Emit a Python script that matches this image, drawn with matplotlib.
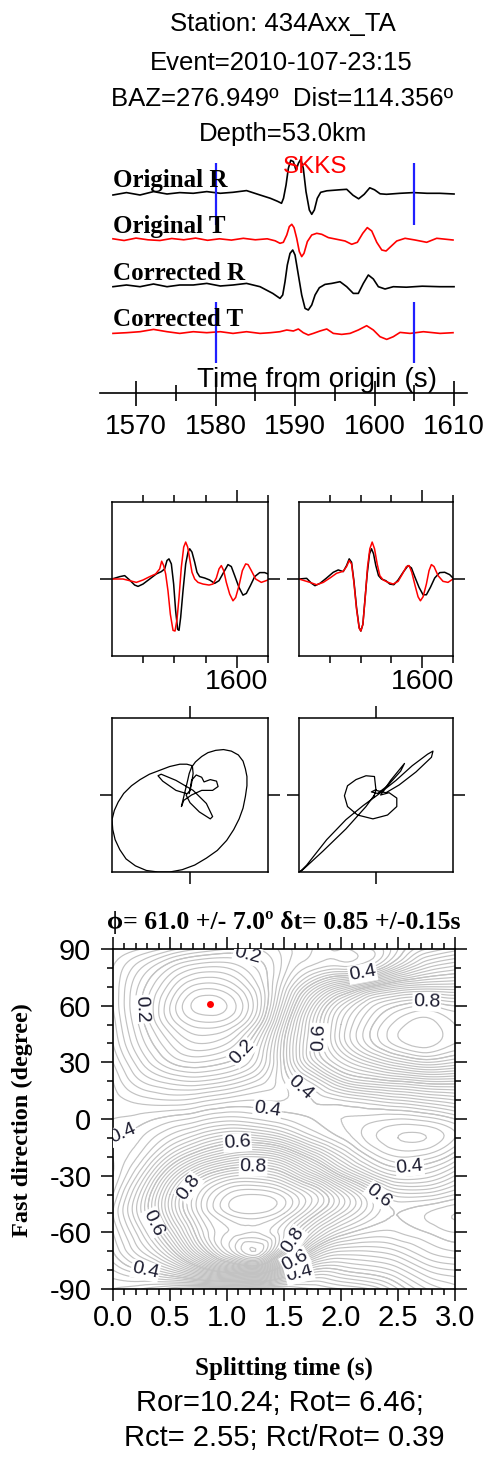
"""Shear-wave splitting summary: traces, windowed waveforms, particle motion, misfit grid."""
import numpy as np
import matplotlib
matplotlib.use("Agg")
import matplotlib.pyplot as plt
import matplotlib.tri as mtri
from matplotlib.ticker import FixedLocator, MultipleLocator, FormatStrFormatter

W, H, DPI = 491, 1458, 100
SANS = ['Liberation Sans', 'DejaVu Sans']
SERIF = ['Liberation Serif', 'DejaVu Serif']
plt.rcParams['font.family'] = SANS
plt.rcParams['axes.unicode_minus'] = False

# ---- event / result info
station = "434Axx_TA"
event = "2010-107-23:15"
baz, dist, depth = 276.949, 114.356, 53.0
phase = "SKKS"
win = [1580, 1605]
phi_best, phi_err = 61.0, 7.0
dt_best, dt_err = 0.85, 0.15
ror, rot, rct = 10.24, 6.46, 2.55

time_ticks = [1570, 1580, 1590, 1600, 1610]
time_minor = [1575, 1585, 1595, 1605]

# ---- full traces: time (s) and amplitude (screen units)
or_t = [1567.1, 1568.8, 1570.5, 1572.2, 1573.9, 1575.5, 1577.2, 1578.9, 1580.6, 1582.2,
        1583.9, 1585.6, 1586.9, 1587.8, 1588.3, 1588.55, 1588.87, 1589.16, 1589.46, 1589.79,
        1590.13, 1590.42, 1590.72, 1591.04, 1591.38, 1591.8, 1592.1, 1592.43, 1592.8, 1593.23,
        1594.0, 1594.8, 1595.6, 1596.5, 1597.3, 1598.0, 1598.7, 1599.4, 1600.0, 1600.7,
        1601.5, 1603.2, 1604.9, 1606.6, 1608.2, 1610.0]
or_a = [-1.7, 0.7, -1.7, 1.7, -0.7, 0.7, 0.0, 1.7, 0.0, 1.0,
        2.7, -1.7, -5.0, -8.0, -10.0, -5.0, 8.3, 25.0, 33.0, 31.7,
        23.0, 30.0, 34.0, 25.0, 1.7, -16.7, -21.0, -16.7, -5.0, 1.0,
        2.5, 3.0, 3.5, 4.0, -2.0, -5.5, -1.0, 5.5, 3.5, -0.5,
        -1.0, 0.0, 0.7, 0.0, 0.0, -0.7]

ot_t = [1567.1, 1568.5, 1570.0, 1571.5, 1573.0, 1574.5, 1576.0, 1577.5, 1579.0, 1580.5,
        1582.0, 1583.5, 1585.0, 1586.5, 1587.5, 1588.11, 1588.53, 1588.96, 1589.28, 1589.59,
        1589.87, 1590.21, 1590.54, 1590.84, 1591.13, 1591.55, 1592.1, 1592.73, 1593.36, 1594.19,
        1595.25, 1596.29, 1597.13, 1597.84, 1598.52, 1599.09, 1599.65, 1600.28, 1600.91, 1601.45,
        1602.04, 1602.79, 1603.84, 1605.09, 1606.56, 1607.82, 1609.87]
ot_a = [0.5, -1.2, 1.2, -0.5, -1.2, 0.8, -0.5, 1.2, -1.0, 0.5,
        -0.8, 1.0, -0.5, 0.5, -1.5, -4.0, -3.0, 4.3, 12.7, 15.0,
        11.7, 1.0, -12.3, -17.3, -14.0, -2.3, 4.3, 6.0, 5.0, 1.7,
        0.0, -1.7, -5.0, -3.0, 6.0, 11.7, 8.3, -3.0, -10.7, -11.7,
        -7.3, -1.7, 1.0, -0.7, -3.0, 1.0, -0.7]

cr_t = [1567.1, 1568.8, 1570.5, 1572.2, 1573.9, 1575.5, 1577.2, 1578.9, 1580.6, 1582.2,
        1583.9, 1585.6, 1587.2, 1588.11, 1588.45, 1588.74, 1589.03, 1589.37, 1589.71, 1590.0,
        1590.42, 1590.84, 1591.26, 1591.67, 1592.1, 1592.52, 1593.06, 1593.77, 1594.62, 1595.66,
        1596.5, 1597.33, 1597.96, 1598.59, 1599.22, 1599.85, 1600.48, 1601.32, 1602.36, 1604.0,
        1606.0, 1608.2, 1610.0]
cr_a = [0.0, 1.7, 0.0, 2.7, 0.0, 1.7, 1.7, 3.3, 0.7, 1.7,
        3.3, 0.0, -6.7, -11.7, -8.3, 5.0, 21.7, 33.3, 36.7, 31.7,
        11.7, -8.3, -21.7, -23.3, -18.3, -8.3, -1.0, 2.3, 3.3, 5.0,
        0.0, -6.7, -6.7, 3.3, 11.7, 7.7, 0.0, -2.3, 0.0, -0.5,
        0.5, 0.0, 0.0]

ct_t = [1567.1, 1568.8, 1570.5, 1572.2, 1573.9, 1575.5, 1577.2, 1578.9, 1580.6, 1582.2,
        1583.9, 1585.6, 1586.9, 1588.11, 1588.96, 1589.79, 1590.42, 1591.04, 1591.67, 1592.3,
        1593.14, 1593.99, 1594.82, 1595.87, 1596.92, 1597.96, 1599.01, 1599.85, 1600.69, 1601.53,
        1602.36, 1603.21, 1604.47, 1606.14, 1608.24, 1609.87]
ct_a = [-0.7, 0.0, 1.0, 3.3, 1.0, -0.7, 1.0, 0.0, 1.0, -0.7,
        1.0, -0.7, 0.0, 1.0, 2.7, 1.7, 3.7, 0.0, -2.3, -0.7,
        1.7, 3.7, -0.7, -1.7, -0.7, 2.7, 7.0, 2.7, -4.0, -6.7,
        -4.0, 0.3, -0.7, 1.0, -0.7, 0.0]

trace_names = ["Original R", "Original T", "Corrected R", "Corrected T"]

# ---- windowed waveforms (normalised), before (1) and after (2) correction
w1_t = [1580.0, 1581.23, 1582.03, 1582.83, 1583.63, 1584.17, 1584.97, 1586.04, 1587.1, 1587.9,
        1588.44, 1588.81, 1589.13, 1589.51, 1589.88, 1590.2, 1590.52, 1590.74, 1591.0, 1591.38,
        1591.81, 1592.18, 1592.45, 1592.82, 1593.25, 1593.62, 1594.05, 1594.85, 1595.65, 1596.45,
        1597.15, 1597.9, 1598.59, 1599.12, 1599.66, 1600.35, 1600.99, 1601.53, 1602.17, 1602.86,
        1603.67, 1604.47, 1605.0]
w1_a = [0.0, 0.045, 0.065, -0.02, -0.116, -0.142, -0.097, 0.0, 0.097, 0.142,
        0.194, 0.355, 0.387, 0.29, -0.097, -0.613, -0.968, -0.987, -0.742, -0.226,
        0.29, 0.516, 0.581, 0.516, 0.323, 0.129, 0.045, 0.019, -0.019, -0.084,
        -0.032, 0.129, 0.277, 0.239, 0.065, -0.161, -0.31, -0.277, -0.129, 0.045,
        0.123, 0.123, 0.097]
r1_t = [1580.0, 1581.76, 1582.83, 1583.9, 1584.97, 1586.04, 1587.0, 1587.64, 1587.96, 1588.28,
        1588.6, 1588.97, 1589.35, 1589.78, 1590.1, 1590.42, 1590.74, 1591.11, 1591.49, 1591.81,
        1592.13, 1592.45, 1592.82, 1593.25, 1593.78, 1594.58, 1595.55, 1596.19, 1596.72, 1597.15,
        1597.52, 1597.9, 1598.32, 1598.86, 1599.39, 1599.82, 1600.35, 1600.89, 1601.42, 1601.8,
        1602.33, 1603.02, 1603.93, 1605.0]
r1_a = [0.0, 0.0, -0.032, -0.065, -0.019, 0.045, 0.097, 0.194, 0.342, 0.258,
        0.097, -0.226, -0.677, -0.987, -1.0, -0.774, -0.355, 0.226, 0.613, 0.71,
        0.613, 0.387, 0.129, 0.0, -0.065, -0.097, -0.116, -0.097, 0.019, 0.194,
        0.258, 0.161, -0.065, -0.29, -0.419, -0.355, -0.129, 0.161, 0.29, 0.277,
        0.161, 0.0, -0.065, -0.019]
w2_t = [1580.0, 1581.24, 1582.05, 1582.59, 1583.4, 1584.48, 1585.56, 1586.37, 1587.18, 1587.72,
        1588.15, 1588.53, 1588.91, 1589.34, 1589.77, 1590.04, 1590.37, 1590.69, 1591.07, 1591.45,
        1591.77, 1592.1, 1592.47, 1592.91, 1593.39, 1594.09, 1594.74, 1595.39, 1596.09, 1596.9,
        1597.71, 1598.25, 1598.79, 1599.49, 1600.14, 1600.68, 1601.33, 1602.03, 1602.84, 1603.65,
        1604.46, 1605.0]
w2_a = [0.0, 0.013, -0.084, -0.129, -0.084, 0.019, 0.129, 0.174, 0.142, 0.258,
        0.387, 0.323, -0.032, -0.548, -0.935, -1.0, -0.871, -0.419, 0.097, 0.484,
        0.581, 0.484, 0.258, 0.065, 0.0, -0.032, -0.097, -0.11, -0.019, 0.129,
        0.258, 0.213, 0.045, -0.161, -0.303, -0.303, -0.161, 0.019, 0.123, 0.129,
        0.084, 0.019]
r2_t = [1580.0, 1581.78, 1582.86, 1583.94, 1585.02, 1586.1, 1587.18, 1587.72, 1588.15, 1588.53,
        1588.91, 1589.34, 1589.77, 1590.04, 1590.37, 1590.75, 1591.12, 1591.5, 1591.88, 1592.26,
        1592.69, 1593.12, 1593.66, 1594.47, 1595.28, 1596.09, 1596.79, 1597.44, 1597.87, 1598.31,
        1598.85, 1599.33, 1599.71, 1600.14, 1600.68, 1601.11, 1601.49, 1601.92, 1602.57, 1603.38,
        1604.19, 1605.0]
r2_a = [0.0, -0.065, -0.11, -0.065, 0.019, 0.11, 0.148, 0.239, 0.355, 0.29,
        -0.065, -0.581, -0.948, -1.0, -0.871, -0.355, 0.226, 0.581, 0.71, 0.581,
        0.29, 0.065, -0.019, -0.065, -0.097, -0.045, 0.097, 0.239, 0.258, 0.129,
        -0.129, -0.342, -0.419, -0.342, -0.097, 0.161, 0.277, 0.239, 0.065, -0.045,
        -0.065, 0.0]

# ---- particle motion (normalised), before and after correction
pm1_x = [-0.05, -0.18, -0.35, -0.41, -0.37, -0.18, 0.04, 0.21, 0.29, 0.26,
         0.12, 0.0, -0.05, 0.0, 0.02, 0.08, 0.15, 0.18, 0.26, 0.34,
         0.36, 0.29, 0.15, 0.02, -0.08, -0.11,
         -0.03, -0.01, 0.02, 0.07, 0.15, 0.23, 0.33, 0.43, 0.53, 0.62,
         0.68, 0.71, 0.73, 0.73, 0.71, 0.68, 0.63, 0.56, 0.47, 0.35,
         0.21, 0.06, -0.1, -0.26, -0.41, -0.56, -0.7, -0.82, -0.9, -0.96,
         -0.99, -1.0, -0.97, -0.92, -0.85, -0.75, -0.64, -0.52, -0.39, -0.26,
         -0.13, -0.04, 0.03, 0.04, 0.02, -0.01]
pm1_y = [0.02, 0.06, 0.18, 0.25, 0.27, 0.19, 0.06, -0.11, -0.28, -0.31,
         -0.22, -0.1, 0.0, 0.06, 0.19, 0.26, 0.23, 0.17, 0.2, 0.18,
         0.11, 0.06, 0.06, 0.0, -0.07, -0.15,
         0.19, 0.28, 0.36, 0.43, 0.5, 0.55, 0.58, 0.59, 0.57, 0.52,
         0.44, 0.34, 0.24, 0.12, -0.02, -0.17, -0.31, -0.45, -0.59, -0.72,
         -0.82, -0.91, -0.97, -1.0, -1.0, -0.98, -0.92, -0.83, -0.71, -0.58,
         -0.45, -0.32, -0.2, -0.09, 0.02, 0.12, 0.2, 0.27, 0.32, 0.37,
         0.4, 0.4, 0.38, 0.28, 0.15, 0.02]
pm2_x = [-0.02, -0.13, -0.39, -0.69, -0.95, -0.99, -0.9, -0.64, -0.39, -0.17,
         0.02, 0.26, 0.47, 0.67, 0.74, 0.72, 0.52, 0.3, 0.13,
         0.0, -0.02, -0.13, -0.26, -0.37, -0.41, -0.37, -0.24, -0.04, 0.15,
         0.27, 0.27, 0.17, 0.06, 0.19, 0.37, 0.32, 0.15, 0.02, -0.06, 0.0, -0.03]
pm2_y = [0.0, -0.15, -0.44, -0.73, -0.97, -1.0, -0.91, -0.58, -0.32, -0.14,
         0.0, 0.19, 0.38, 0.53, 0.57, 0.49, 0.3, 0.13, 0.03,
         0.06, 0.24, 0.25, 0.2, 0.12, -0.01, -0.15, -0.26, -0.31, -0.26,
         -0.15, -0.04, 0.03, 0.0, 0.19, 0.41, 0.31, 0.12, 0.02, 0.04, 0.07, -0.03]

# ---- normalised misfit grid: rows phi -90..90 (step 10), cols dt 0..3 (step 0.25)
dt_grid = [0.0, 0.25, 0.5, 0.75, 1.0, 1.25, 1.5, 1.75, 2.0, 2.25, 2.5, 2.75, 3.0]
phi_grid = [-90, -80, -70, -60, -50, -40, -30, -20, -10, 0, 10, 20, 30, 40, 50, 60, 70, 80, 90]
misfit = [
    [0.32, 0.30, 0.27, 0.24, 0.22, 0.22, 0.25, 0.28, 0.30, 0.32, 0.38, 0.44, 0.47],  # -90
    [0.36, 0.40, 0.45, 0.55, 0.65, 0.70, 0.52, 0.40, 0.40, 0.42, 0.45, 0.50, 0.52],  # -80
    [0.40, 0.48, 0.58, 0.75, 0.90, 0.98, 0.80, 0.58, 0.50, 0.50, 0.52, 0.56, 0.58],  # -70
    [0.42, 0.52, 0.66, 0.82, 0.90, 0.92, 0.86, 0.72, 0.62, 0.58, 0.58, 0.60, 0.62],  # -60
    [0.44, 0.56, 0.72, 0.86, 0.94, 0.96, 0.92, 0.82, 0.72, 0.64, 0.60, 0.62, 0.64],  # -50
    [0.42, 0.55, 0.72, 0.86, 0.94, 0.96, 0.93, 0.85, 0.74, 0.63, 0.55, 0.55, 0.58],  # -40
    [0.40, 0.50, 0.65, 0.78, 0.85, 0.86, 0.82, 0.72, 0.60, 0.50, 0.44, 0.45, 0.50],  # -30
    [0.40, 0.45, 0.55, 0.64, 0.70, 0.72, 0.68, 0.58, 0.48, 0.40, 0.36, 0.37, 0.42],  # -20
    [0.40, 0.42, 0.47, 0.52, 0.56, 0.56, 0.52, 0.45, 0.40, 0.35, 0.32, 0.32, 0.36],  # -10
    [0.38, 0.39, 0.41, 0.43, 0.45, 0.44, 0.42, 0.40, 0.38, 0.37, 0.36, 0.37, 0.40],  # 0
    [0.37, 0.35, 0.34, 0.35, 0.37, 0.38, 0.38, 0.40, 0.42, 0.44, 0.46, 0.48, 0.50],  # 10
    [0.36, 0.30, 0.27, 0.26, 0.28, 0.32, 0.38, 0.45, 0.54, 0.58, 0.60, 0.62, 0.62],  # 20
    [0.34, 0.26, 0.20, 0.18, 0.20, 0.26, 0.40, 0.55, 0.64, 0.70, 0.75, 0.78, 0.76],  # 30
    [0.32, 0.23, 0.16, 0.12, 0.14, 0.23, 0.40, 0.57, 0.70, 0.79, 0.85, 0.87, 0.84],  # 40
    [0.31, 0.21, 0.12, 0.07, 0.08, 0.17, 0.37, 0.56, 0.70, 0.79, 0.85, 0.87, 0.84],  # 50
    [0.30, 0.20, 0.10, 0.03, 0.04, 0.13, 0.32, 0.52, 0.66, 0.75, 0.80, 0.82, 0.80],  # 60
    [0.30, 0.21, 0.13, 0.07, 0.08, 0.15, 0.28, 0.42, 0.52, 0.60, 0.66, 0.68, 0.68],  # 70
    [0.30, 0.24, 0.18, 0.14, 0.14, 0.18, 0.25, 0.31, 0.33, 0.36, 0.46, 0.54, 0.57],  # 80
    [0.32, 0.30, 0.27, 0.24, 0.22, 0.22, 0.25, 0.28, 0.30, 0.32, 0.38, 0.44, 0.47],  # 90
]
dt_ticks = [0.0, 0.5, 1.0, 1.5, 2.0, 2.5, 3.0]
phi_ticks = [-90, -60, -30, 0, 30, 60, 90]
label_levels = [0.2, 0.4, 0.6, 0.8]


def px_axes(fig, x0, y0, x1, y1):
    """Axes placed by pixel box (top-left origin)."""
    return fig.add_axes([x0 / W, 1 - y1 / H, (x1 - x0) / W, (y1 - y0) / H])


def ftext(x, y, s, **kw):
    kw.setdefault('ha', 'center')
    kw.setdefault('va', 'center')
    fig.text(x / W, 1 - y / H, s, **kw)


fig = plt.figure(figsize=(W / DPI, H / DPI), dpi=DPI)

# header
ftext(283, 24, f"Station: {station}", fontsize=18.5)
ftext(281, 63, f"Event={event}", fontsize=18.5)
ftext(282, 99, f"BAZ={baz:.3f}º  Dist={dist:.3f}º", fontsize=18.5)
ftext(283, 134, f"Depth={depth:.1f}km", fontsize=18.5)

# ---- traces
ax = px_axes(fig, 100, 150, 467, 393)
ax.set_xlim(1565.47, 1611.63)
ax.set_ylim(393, 150)
baselines = [193.3, 239.3, 286.7, 332.7]
traces = [(or_t, or_a, 'black'), (ot_t, ot_a, 'red'), (cr_t, cr_a, 'black'), (ct_t, ct_a, 'red')]
for (t, a, c), base in zip(traces, baselines):
    ax.plot(t, base - np.array(a), color=c, lw=1.2, solid_joinstyle='round')
ax.vlines(win, 163, 225, colors='#1f1fff', lw=1.6)
ax.vlines(win, 302, 363, colors='#1f1fff', lw=1.6)
for sp in ['top', 'left', 'right']:
    ax.spines[sp].set_visible(False)
ax.spines['bottom'].set_linewidth(1.2)
ax.set_yticks([])
ax.xaxis.set_major_locator(FixedLocator(time_ticks))
ax.xaxis.set_minor_locator(FixedLocator(time_minor))
ax.tick_params(axis='x', which='major', direction='inout', length=18, width=1.2,
               labelsize=20, pad=6)
ax.tick_params(axis='x', which='minor', direction='inout', length=11, width=1.2)
ax.patch.set_alpha(0)

for name, yb in zip(trace_names, [187, 233, 280, 326]):
    fig.text(113 / W, 1 - yb / H, name, ha='left', va='baseline', fontsize=18,
             fontfamily=SERIF, fontweight='bold')
ftext(315, 167, phase, color='red', fontsize=17.5)
ftext(317, 380, "Time from origin (s)", fontsize=20)

# ---- windowed waveforms
for (x0, x1), (bt, ba, rt, ra) in zip([(112, 268), (299, 453)],
                                      [(w1_t, w1_a, r1_t, r1_a), (w2_t, w2_a, r2_t, r2_a)]):
    ax = px_axes(fig, x0, 502, x1, 656)
    ax.plot(bt, ba, color='black', lw=1.1, solid_joinstyle='round')
    ax.plot(rt, ra, color='red', lw=1.1, solid_joinstyle='round')
    ax.set_xlim(win)
    ax.set_ylim(-1.48, 1.48)
    ax.xaxis.set_major_locator(FixedLocator([1600]))
    ax.xaxis.set_minor_locator(FixedLocator([1585, 1590, 1595, 1605]))
    ax.set_yticks([0])
    ax.set_yticklabels([])
    ax.tick_params(axis='x', which='both', top=True, bottom=True, direction='out',
                   width=1.1, labelsize=20.5, pad=1)
    ax.tick_params(axis='x', which='major', length=8.6)
    ax.tick_params(axis='x', which='minor', length=5)
    ax.tick_params(axis='y', left=True, right=True, direction='out', length=8.6, width=1.1)
    for sp in ax.spines.values():
        sp.set_linewidth(1.1)

# ---- particle motion
for (x0, x1), (px, py) in zip([(112, 268), (299, 453)], [(pm1_x, pm1_y), (pm2_x, pm2_y)]):
    ax = px_axes(fig, x0, 718, x1, 872)
    ax.plot(px, py, color='black', lw=0.9, solid_joinstyle='round')
    ax.set_xlim(-1, 1)
    ax.set_ylim(-1, 1)
    ax.set_xticks([0])
    ax.set_yticks([0])
    ax.set_xticklabels([])
    ax.set_yticklabels([])
    ax.tick_params(which='both', top=True, bottom=True, left=True, right=True,
                   direction='out', length=8.6, width=1.1)
    for sp in ax.spines.values():
        sp.set_linewidth(1.1)

# ---- misfit contour
ax = px_axes(fig, 113, 949, 455, 1289)
DT, PHI = np.meshgrid(dt_grid, phi_grid)
Z = np.array(misfit)
tri = mtri.Triangulation(DT.ravel(), PHI.ravel() / 40.0)
tri_f, z_f = mtri.UniformTriRefiner(tri).refine_field(Z.ravel(), subdiv=3)
tri_plot = mtri.Triangulation(tri_f.x, tri_f.y * 40.0, tri_f.triangles)
levels = np.round(np.arange(1, 50) * 0.02, 2)
ax.tricontour(tri_plot, z_f, levels=levels, colors='#c2c2c2', linewidths=0.85)
# labelled levels drawn again so that manual label placement works
cs_lab = ax.tricontour(tri_plot, z_f, levels=label_levels, colors='#c2c2c2', linewidths=0.85)
label_pos = [(0.24, 58), (1.18, 87), (1.16, 34),
             (2.19, 77), (1.64, 16), (1.35, 3), (0.08, -7), (2.6, -24), (0.28, -81), (1.64, -83),
             (1.86, 43), (1.09, -12), (2.36, -38.5), (0.32, -56), (1.58, -73),
             (2.75, 58), (1.23, -25), (0.62, -34), (1.57, -64)]
labels = ax.clabel(cs_lab, manual=label_pos, fmt='%.1f', fontsize=14,
                   colors='#1c1c30', inline=True, inline_spacing=3)
for lab in labels:
    lab.set_bbox(dict(facecolor='white', edgecolor='none', pad=0.6))
ax.plot(dt_best, phi_best, 'o', color='red', ms=5, mec='none', zorder=5)
ax.set_xlim(0, 3)
ax.set_ylim(-90, 90)
ax.set_xticks(dt_ticks)
ax.set_yticks(phi_ticks)
ax.xaxis.set_major_formatter(FormatStrFormatter('%.1f'))
ax.xaxis.set_minor_locator(MultipleLocator(0.1))
ax.yaxis.set_minor_locator(MultipleLocator(10))
ax.tick_params(which='both', direction='out', top=True, right=True, width=1.1, labelsize=21)
ax.tick_params(which='major', length=8.6)
ax.tick_params(which='minor', length=4.5)
ax.tick_params(axis='x', pad=2)
ax.tick_params(axis='y', pad=7)
for sp in ax.spines.values():
    sp.set_linewidth(1.2)

ftext(284, 923, f"ϕ= {phi_best:.1f} +/- {phi_err:.1f}º δt= {dt_best:.2f} +/-{dt_err:.2f}s",
      fontsize=18.5, fontfamily=SERIF, fontweight='bold')
ftext(22, 1120, "Fast direction (degree)", rotation=90, fontsize=17.5,
      fontfamily=SERIF, fontweight='bold')
ftext(284, 1368, "Splitting time (s)", fontsize=18, fontfamily=SERIF, fontweight='bold')
ftext(280, 1403, f"Ror={ror:5.2f}; Rot={rot:5.2f};", fontsize=21)
ftext(284, 1438, f"Rct={rct:5.2f}; Rct/Rot={rct / rot:5.2f}", fontsize=21)

fig.savefig("out.png", dpi=DPI)
